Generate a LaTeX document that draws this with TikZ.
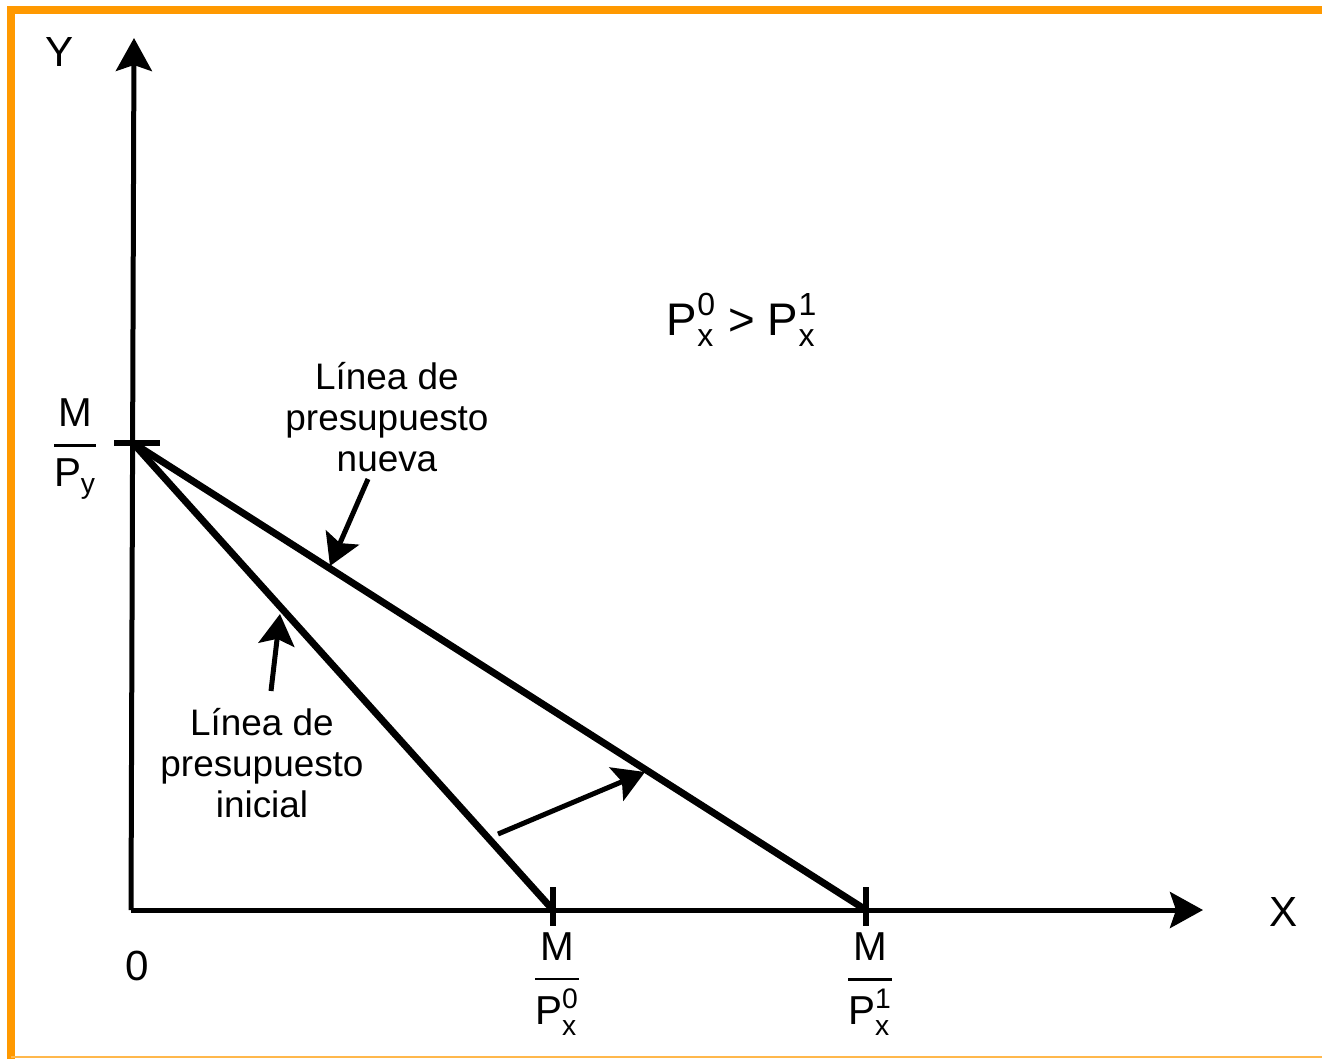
\documentclass[tikz,border=0pt]{standalone}
\usepackage{amsmath}
\usepackage{fontspec}
\setmainfont{Liberation Sans}
\usetikzlibrary{arrows.meta,positioning}
\definecolor{frameorange}{RGB}{255,153,0}
\tikzstyle{axisline} = [line width=0.1cm,
                        -{Stealth[length=0.66cm,width=0.72cm,inset=0.12cm]}]
\tikzstyle{bline}    = [line width=0.14cm]
\tikzstyle{tickline} = [line width=0.11cm]
\tikzstyle{parrow}   = [line width=0.1cm,
                        -{Stealth[length=0.62cm,width=0.72cm,inset=0.12cm]}]
\tikzstyle{axlabel}  = [inner sep=0pt, font=\fontsize{24}{28}\selectfont]
\tikzstyle{frac}     = [inner sep=0pt, font=\fontsize{23}{27}\selectfont]
\tikzstyle{note}     = [inner sep=0pt, align=center,
                        font=\fontsize{21}{23.3}\selectfont]
\newcommand{\barfrac}[2]{$\genfrac{}{}{1.6pt}{0}{\text{#1}}{#2}$}

\begin{document}
\begin{tikzpicture}[x=0.02cm, y=-0.02cm]
\useasboundingbox (0,0) rectangle (1322,1059);
% Frame
\draw[frameorange, line width=0.16cm] (11,1059) |- (1322,10);
\draw[frameorange!70, line width=0.04cm] (11,1057) -- (1322,1057);
% Points
\coordinate (O) at (131,910);
\coordinate (ytop) at (134,38);
\coordinate (xend) at (1203,910);
\coordinate (A) at (133,443);
\coordinate (B0) at (553,910);
\coordinate (B1) at (866,910);
% Axes
\draw[axisline] (O) -- (ytop);
\draw[axisline] (O) -- (xend);
\node[axlabel] (ylab) at (60,52) {Y};
\node[axlabel] (xlab) at (1284,912) {X};
\node[axlabel] (zero) at (137,966) {0};
% Ticks
\draw[tickline] (114,443) -- (160,443);
\draw[tickline] (553,887) -- (553,926);
\draw[tickline] (866,887) -- (866,926);
% Budget lines
\draw[bline] (A) -- (B0);
\draw[bline] (A) -- (B1);
% Intercepts
\node[frac] (my) at (75,449) {\barfrac{M}{\text{P}_{\text{y}}}};
\node[frac] (mx0) at (557,984) {\barfrac{M}{\text{P}_{\text{x}}^{\text{0}}}};
\node[frac] (mx1) at (870,984) {\barfrac{M}{\text{P}_{\text{x}}^{\text{1}}}};
% Price relation
\node[inner sep=0pt, font=\fontsize{26}{30}\selectfont] (rel) at (742,320)
  {$\text{P}_{\text{x}}^{\text{0}}$ > $\text{P}_{\text{x}}^{\text{1}}$};
% Labels and pointers
\node[note] (nueva) at (387,417) {Línea de\\presupuesto\\nueva};
\node[note] (inicial) at (262,763) {Línea de\\presupuesto\\inicial};
\coordinate (n0) at (368,479);
\coordinate (n1) at (330,566);
\coordinate (i0) at (271,691);
\coordinate (i1) at (280,614);
\coordinate (s0) at (498,834);
\coordinate (s1) at (645,772);
\draw[parrow] (n0) -- (n1);
\draw[parrow] (i0) -- (i1);
\draw[parrow] (s0) -- (s1);
\end{tikzpicture}
\end{document}
